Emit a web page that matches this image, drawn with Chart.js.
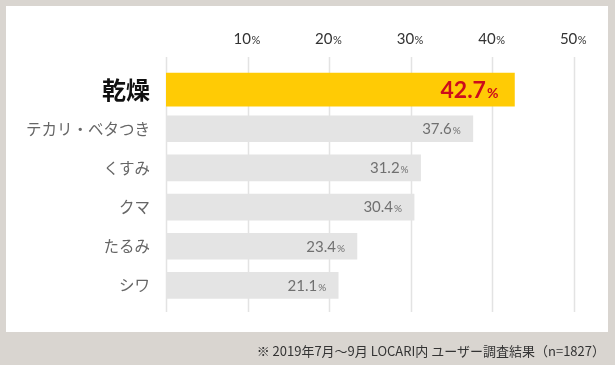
<!DOCTYPE html>
<html lang="ja">
<head>
<meta charset="utf-8">
<script src="https://cdn.jsdelivr.net/npm/chart.js@4.4.1/dist/chart.umd.min.js"></script>
<style>
  html, body { margin: 0; padding: 0; background: #d9d5d0; }
  #wrap { position: relative; width: 615px; height: 365px; overflow: hidden; }
  #note {
    position: absolute; right: 10px; top: 341px;
    font-family: "Noto Sans CJK JP", "Noto Sans", sans-serif;
    font-size: 13px; color: #333; white-space: nowrap;
  }
</style>
</head>
<body>
<div id="wrap">
  <canvas id="chart" width="615" height="365"></canvas>
  <div id="note">※ 2019年7月〜9月 LOCARI内 ユーザー調査結果（n=1827）</div>
</div>
<script>
// data
const categories = ['乾燥', 'テカリ・ベタつき', 'くすみ', 'クマ', 'たるみ', 'シワ'];
const percentages = [42.7, 37.6, 31.2, 30.4, 23.4, 21.1];
const highlightIndex = 0;
const tickValues = [0, 10, 20, 30, 40, 50];

const jpFont = '"Noto Sans CJK JP", "Noto Sans", sans-serif';
const numFont = 'Lato, "Noto Sans", sans-serif';

const highlightData = percentages.map((v, i) => i === highlightIndex ? v : null);
const restData = percentages.map((v, i) => i === highlightIndex ? null : v);

// white card behind the plot
const panelPlugin = {
    id: 'panel',
    beforeDraw(chart) {
        const ctx = chart.ctx;
        ctx.save();
        ctx.fillStyle = '#d9d5d0';
        ctx.fillRect(0, 0, chart.width, chart.height);
        ctx.fillStyle = '#ffffff';
        ctx.fillRect(6, 6, 602, 326);
        ctx.restore();
    }
};

// vertical grid lines run a bit past the bars, and the tick labels have a small "%"
const gridPlugin = {
    id: 'percentGrid',
    beforeDatasetsDraw(chart) {
        const ctx = chart.ctx;
        const xs = chart.scales.x;
        const area = chart.chartArea;
        ctx.save();
        ctx.strokeStyle = '#e3e3e3';
        ctx.lineWidth = 1.5;
        tickValues.forEach(v => {
            const px = Math.round(xs.getPixelForValue(v)) + 0.5;
            ctx.beginPath();
            ctx.moveTo(px, area.top - 13);
            ctx.lineTo(px, area.bottom + 7);
            ctx.stroke();
        });
        ctx.fillStyle = '#333';
        ctx.textBaseline = 'alphabetic';
        tickValues.filter(v => v > 0).forEach(v => {
            const px = xs.getPixelForValue(v);
            ctx.font = '15px ' + numFont;
            const num = String(v);
            const wNum = ctx.measureText(num).width;
            ctx.font = '11px ' + numFont;
            const wPct = ctx.measureText('%').width;
            const start = px - (wNum + wPct) / 2 - 1;
            ctx.textAlign = 'left';
            ctx.font = '15px ' + numFont;
            ctx.fillText(num, start, 44);
            ctx.font = '11px ' + numFont;
            ctx.fillText('%', start + wNum + 0.5, 44);
        });
        ctx.restore();
    }
};

// value labels inside the end of each bar
const valuePlugin = {
    id: 'valueLabels',
    afterDatasetsDraw(chart) {
        const ctx = chart.ctx;
        ctx.save();
        ctx.textBaseline = 'alphabetic';
        ctx.textAlign = 'right';
        chart.data.datasets.forEach((ds, di) => {
            const meta = chart.getDatasetMeta(di);
            meta.data.forEach((bar, i) => {
                const v = ds.data[i];
                if (v === null || v === undefined) return;
                const hi = i === highlightIndex;
                const numSize = hi ? 23 : 15;
                const pctSize = hi ? 14 : 10;
                const weight = hi ? 'bold ' : '';
                const pad = hi ? 16 : 12;
                const base = bar.y + numSize * 0.36;
                ctx.fillStyle = hi ? '#cc0c1c' : '#707070';
                ctx.font = weight + pctSize + 'px ' + numFont;
                const wPct = ctx.measureText('%').width;
                const xEnd = bar.x - pad;
                ctx.fillText('%', xEnd, base);
                ctx.font = weight + numSize + 'px ' + numFont;
                ctx.fillText(v.toFixed(1), xEnd - wPct - 1, base);
            });
        });
        ctx.restore();
    }
};

new Chart(document.getElementById('chart'), {
    type: 'bar',
    data: {
        labels: categories,
        datasets: [
            {
                data: highlightData,
                backgroundColor: '#ffcb05',
                barThickness: 33,
                grouped: false
            },
            {
                data: restData,
                backgroundColor: '#e4e4e4',
                barThickness: 26,
                grouped: false
            }
        ]
    },
    options: {
        indexAxis: 'y',
        responsive: false,
        animation: false,
        layout: { padding: { left: 0, right: 41, top: 0, bottom: 60 } },
        plugins: {
            legend: { display: false },
            tooltip: { enabled: false }
        },
        scales: {
            x: {
                position: 'top',
                min: 0,
                max: 50,
                ticks: { stepSize: 10, display: false },
                grid: { display: false },
                border: { display: false },
                afterFit(scale) { scale.height = 70; }
            },
            y: {
                grid: { display: false },
                border: { display: false },
                ticks: {
                    padding: 8,
                    color: ctx => ctx.index === highlightIndex ? '#111' : '#666',
                    font: ctx => ctx.index === highlightIndex
                        ? { family: jpFont, size: 24, weight: 'bold' }
                        : { family: jpFont, size: 15.5 }
                },
                afterFit(scale) { scale.width = 166; }
            }
        }
    },
    plugins: [panelPlugin, gridPlugin, valuePlugin]
});
</script>
</body>
</html>
